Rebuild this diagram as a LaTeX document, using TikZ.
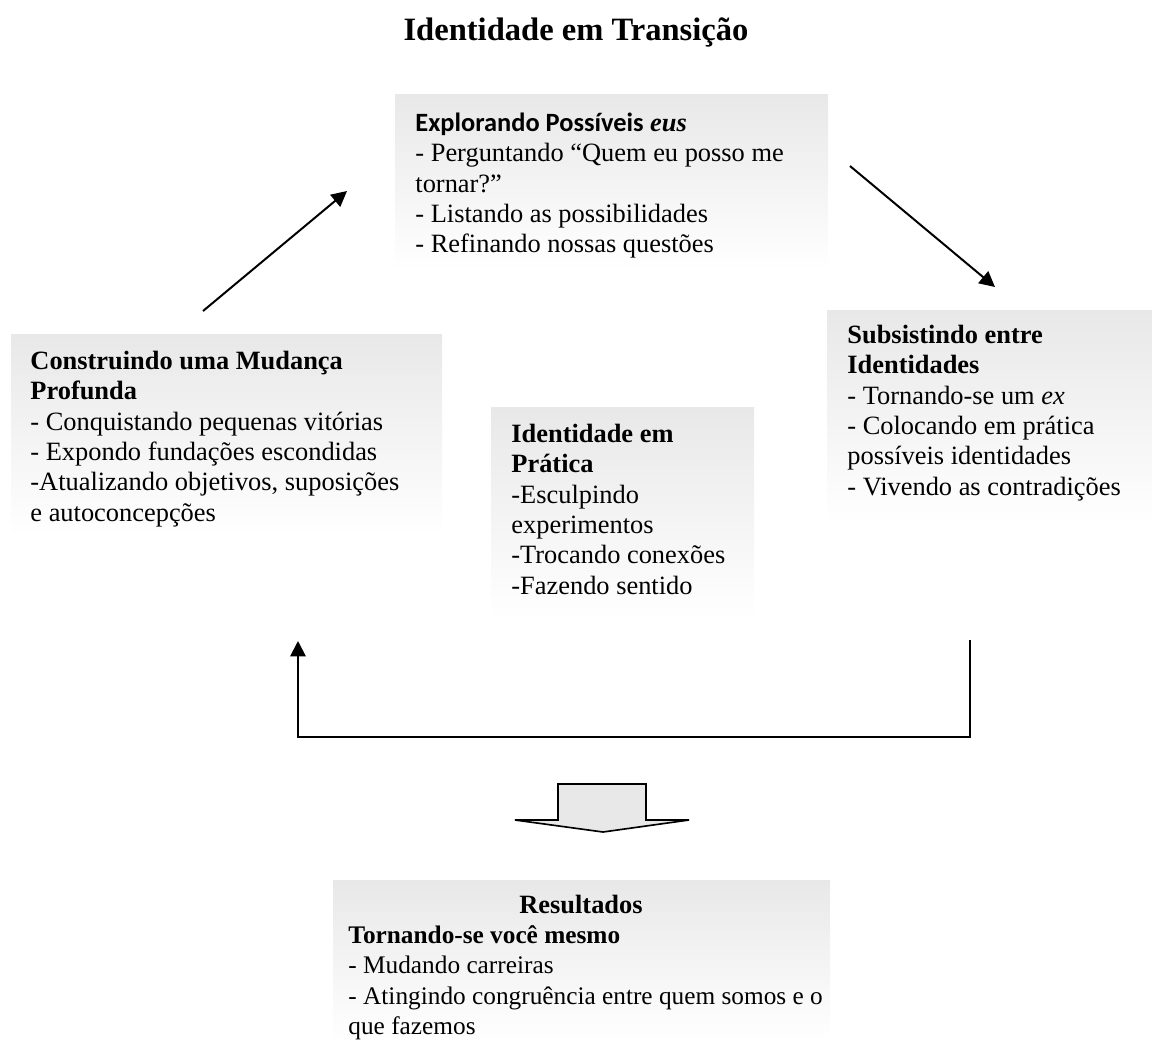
\documentclass[tikz,border=0pt]{standalone}
\usepackage{fontspec}
\setmainfont{Liberation Serif}
\newfontfamily\calibrifont{Carlito}
\usetikzlibrary{arrows.meta}
\begin{document}
\begin{tikzpicture}[x=0.4545pt,y=-0.4545pt,
  box/.style={top color=black!9, bottom color=white, draw=none},
  txt/.style={anchor=north west, inner sep=0pt, align=left, font=\fontsize{12}{13.8}\selectfont},
  conn/.style={line width=0.9pt, -{Triangle[length=7pt,width=7pt]}},
  blockarrow/.style={line width=0.75pt, fill=black!9, line join=miter}]
\useasboundingbox (0,0) rectangle (1152,1041);
% boxes
\shade[box] (395,94) rectangle (828,270);
\shade[box] (11,334) rectangle (442,537);
\shade[box] (827,310) rectangle (1152,525);
\shade[box] (491,407) rectangle (754,620);
\shade[box] (333,880) rectangle (830,1041);
% title
\node (title) at (576,40) [anchor=base, inner sep=0pt, font=\fontsize{14.8}{17}\selectfont\bfseries] {Identidade em Transição};
% texts
\node[txt] (explore) at (415,109.75) {\strut{\calibrifont\bfseries Explorando Possíveis} \textbf{\textit{eus}}\\- Perguntando “Quem eu posso me\\tornar?”\\- Listando as possibilidades\\- Refinando nossas questões};
\node[txt] (build) at (30,347.75) {\strut\textbf{Construindo uma Mudança}\\\textbf{Profunda}\\- Conquistando pequenas vitórias\\- Expondo fundações escondidas\\-Atualizando objetivos, suposições\\e autoconcepções};
\node[txt] (between) at (847,321.75) {\strut\textbf{Subsistindo entre}\\\textbf{Identidades}\\- Tornando-se um \textit{ex}\\- Colocando em prática\\possíveis identidades\\- Vivendo as contradições};
\node[txt] (practice) at (511,420.75) {\strut\textbf{Identidade em}\\\textbf{Prática}\\-Esculpindo\\experimentos\\-Trocando conexões\\-Fazendo sentido};
\node (reshead) at (581,913) [anchor=base, inner sep=0pt, font=\fontsize{12}{13.8}\selectfont\bfseries] {Resultados};
\node[txt, font=\fontsize{11.5}{13.8}\selectfont] (results) at (348,921.75) {\strut\textbf{Tornando-se você mesmo}\\- Mudando carreiras\\- Atingindo congruência entre quem somos e o\\que fazemos};
% connectors
\coordinate (a1s) at (203,311);
\coordinate (a1e) at (347,191);
\coordinate (a2s) at (850,166);
\coordinate (a2e) at (995,287);
\coordinate (fbs) at (970,640);
\coordinate (fbe) at (298,641);
\draw[conn] (a1s) -- (a1e);
\draw[conn] (a2s) -- (a2e);
\draw[conn] (fbs) -- ++(0,97) -| (fbe);
% block arrow
\draw[blockarrow] (558,784) -- (646,784) -- (646,820) -- (689,820) -- (603,832) -- (515,820) -- (558,820) -- cycle;
\end{tikzpicture}
\end{document}
